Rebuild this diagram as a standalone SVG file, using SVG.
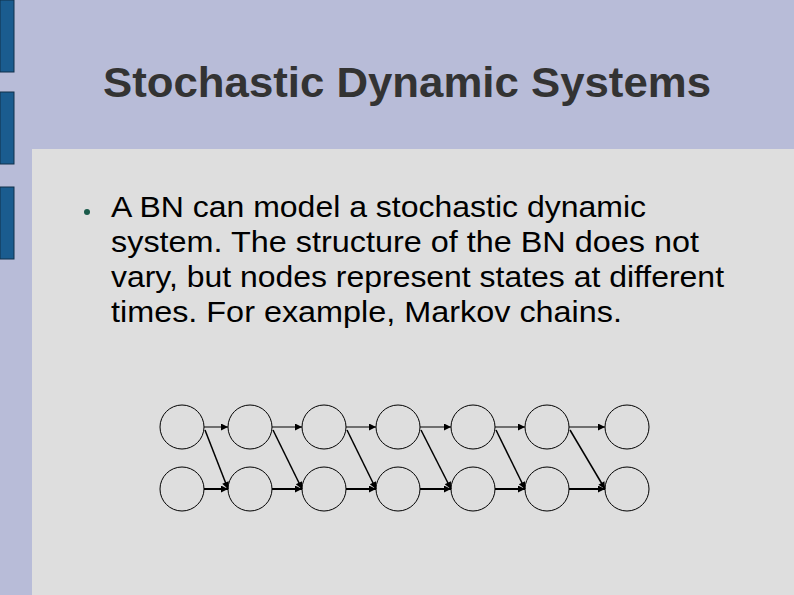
<svg xmlns="http://www.w3.org/2000/svg" width="794" height="595" viewBox="0 0 794 595">
<defs>
<style>
.bar{fill:#1a5c8f;stroke:#10304a;stroke-width:1}
.n{fill:none;stroke:#000;stroke-width:1}
.c line{stroke:#000;marker-end:url(#a)}
.t{font-family:"Liberation Sans",Arial,sans-serif}
</style>
<marker id="a" viewBox="0 0 10 10" refX="10" refY="5" markerWidth="9" markerHeight="7" markerUnits="userSpaceOnUse" orient="auto"><path d="M0,0L10,5L0,10z"/></marker>
</defs>
<rect width="794" height="595" fill="#b8bcd8"/>
<rect x="32" y="149" width="762" height="446" fill="#dedede"/>
<rect class="bar" x="0" y="0" width="14" height="72"/>
<rect class="bar" x="0" y="92" width="14" height="72"/>
<rect class="bar" x="0" y="187" width="14" height="72"/>
<text class="t" x="103" y="97" font-size="42" font-weight="bold" fill="#333" textLength="608" lengthAdjust="spacingAndGlyphs">Stochastic Dynamic Systems</text>
<circle cx="87" cy="212" r="3" fill="#1a5a4a"/>
<g class="t" font-size="30" fill="#000" xml:space="preserve">
<text x="111" y="217" textLength="535" lengthAdjust="spacingAndGlyphs">A BN can model a stochastic dynamic</text>
<text x="111" y="252" textLength="588" lengthAdjust="spacingAndGlyphs">system.  The structure of the BN does not</text>
<text x="111" y="287" textLength="613" lengthAdjust="spacingAndGlyphs">vary, but nodes represent states at different</text>
<text x="111" y="322" textLength="511" lengthAdjust="spacingAndGlyphs">times.  For example, Markov chains.</text>
</g>
<g id="nodes">
<g id="t1"><circle class="n" cx="182" cy="427" r="22"/><circle class="n" cx="182" cy="489" r="22"/></g>
<g id="t2"><circle class="n" cx="250" cy="427" r="22"/><circle class="n" cx="250" cy="489" r="22"/></g>
<g id="t3"><circle class="n" cx="324" cy="427" r="22"/><circle class="n" cx="324" cy="489" r="22"/></g>
<g id="t4"><circle class="n" cx="398" cy="427" r="22"/><circle class="n" cx="398" cy="489" r="22"/></g>
<g id="t5"><circle class="n" cx="473" cy="427" r="22"/><circle class="n" cx="473" cy="489" r="22"/></g>
<g id="t6"><circle class="n" cx="547" cy="427" r="22"/><circle class="n" cx="547" cy="489" r="22"/></g>
<g id="t7"><circle class="n" cx="627" cy="427" r="22"/><circle class="n" cx="627" cy="489" r="22"/></g>
</g>
<g id="connectors" class="c">
<line x1="204" y1="427" x2="228" y2="427" stroke-width="1"/><line x1="205" y1="430" x2="228" y2="489" stroke-width="1.5"/><line x1="204" y1="489" x2="228" y2="489" stroke-width="2"/>
<line x1="272" y1="427" x2="302" y2="427" stroke-width="1"/><line x1="273" y1="430" x2="302" y2="489" stroke-width="1.5"/><line x1="272" y1="489" x2="302" y2="489" stroke-width="2"/>
<line x1="346" y1="427" x2="376" y2="427" stroke-width="1"/><line x1="347" y1="430" x2="376" y2="489" stroke-width="1.5"/><line x1="346" y1="489" x2="376" y2="489" stroke-width="2"/>
<line x1="420" y1="427" x2="451" y2="427" stroke-width="1"/><line x1="421" y1="430" x2="451" y2="489" stroke-width="1.5"/><line x1="420" y1="489" x2="451" y2="489" stroke-width="2"/>
<line x1="495" y1="427" x2="525" y2="427" stroke-width="1"/><line x1="496" y1="430" x2="525" y2="489" stroke-width="1.5"/><line x1="495" y1="489" x2="525" y2="489" stroke-width="2"/>
<line x1="569" y1="427" x2="605" y2="427" stroke-width="1"/><line x1="570" y1="430" x2="605" y2="489" stroke-width="1.5"/><line x1="569" y1="489" x2="605" y2="489" stroke-width="2"/>
</g>
</svg>
